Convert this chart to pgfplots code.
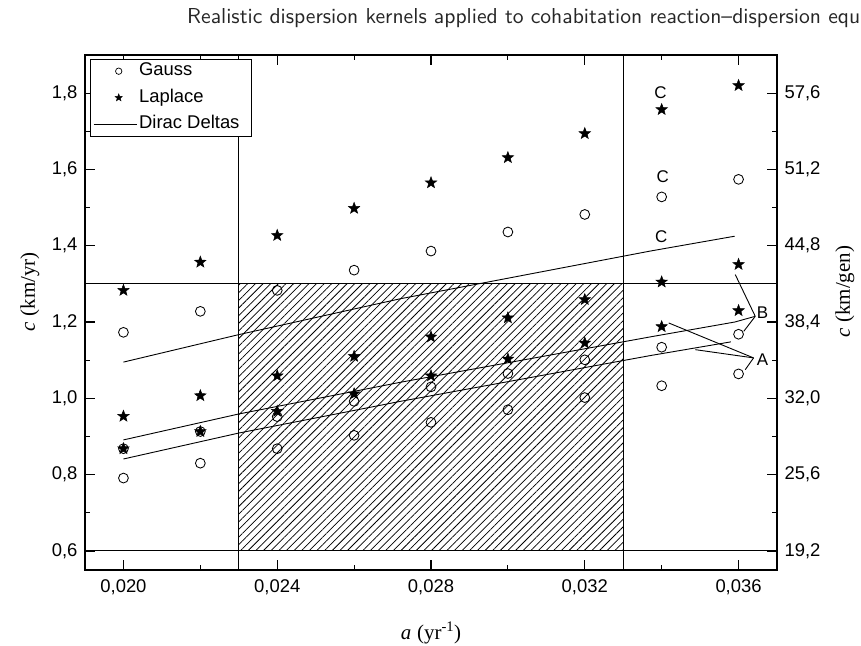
\documentclass[border=0pt]{standalone}
\usepackage{fontspec}
\setmainfont{Liberation Sans}
\newfontfamily\serifrm{Liberation Serif}
\usepackage{graphicx}
\usepackage{pgfplots}
\pgfplotsset{compat=1.18}
\usetikzlibrary{patterns.meta}

% filled five-pointed star
\pgfdeclareplotmark{fstar}{%
  \pgfpathmoveto{\pgfpointpolar{90}{\pgfplotmarksize}}%
  \pgfpathlineto{\pgfpointpolar{126}{0.42\pgfplotmarksize}}%
  \pgfpathlineto{\pgfpointpolar{162}{\pgfplotmarksize}}%
  \pgfpathlineto{\pgfpointpolar{198}{0.42\pgfplotmarksize}}%
  \pgfpathlineto{\pgfpointpolar{234}{\pgfplotmarksize}}%
  \pgfpathlineto{\pgfpointpolar{270}{0.42\pgfplotmarksize}}%
  \pgfpathlineto{\pgfpointpolar{306}{\pgfplotmarksize}}%
  \pgfpathlineto{\pgfpointpolar{342}{0.42\pgfplotmarksize}}%
  \pgfpathlineto{\pgfpointpolar{18}{\pgfplotmarksize}}%
  \pgfpathlineto{\pgfpointpolar{54}{0.42\pgfplotmarksize}}%
  \pgfpathclose
  \pgfusepathqfillstroke}

\pgfplotsset{
  gauss/.style={only marks, mark=o, mark size=4.9bp, mark options={line width=0.85bp, black}},
  laplace/.style={only marks, mark=fstar, mark size=6bp, mark options={line width=0.5bp, fill=black, draw=black}},
  dirac/.style={black, line width=0.9bp, no marks},
  legmark/.style={legend image code/.code={\draw[##1] plot coordinates {(25bp,0bp)};}},
  legline/.style={legend image code/.code={\draw[##1] (0bp,0bp) -- (43bp,0bp);}},
}
\tikzset{tlab/.style={font=\fontsize{17}{19}\selectfont, inner sep=0pt}}

\begin{document}
\begin{tikzpicture}
\useasboundingbox (0,0) rectangle (861bp,646bp);
\node[anchor=base west, text=black!85, inner sep=0pt] at (187bp,622bp)
  {\scalebox{2.17}{\sffamily\fontsize{10}{12}\selectfont Realistic dispersion kernels applied to cohabitation reaction–dispersion equations}};

\begin{axis}[
  at={(85bp,76bp)}, anchor=south west,
  scale only axis, width=692bp, height=515bp,
  xmin=0.019, xmax=0.037, ymin=0.55, ymax=1.9,
  clip=false,
  axis line style={line width=1.8bp, -},
  tick align=inside,
  xtick pos=both, ytick pos=left,
  xtick={0.020,0.024,0.028,0.032,0.036},
  minor xtick={0.022,0.026,0.030,0.034},
  ytick={0.6,0.8,1.0,1.2,1.4,1.6,1.8},
  minor ytick={0.7,0.9,1.1,1.3,1.5,1.7},
  major tick length=10bp, minor tick length=5bp,
  every tick/.append style={line width=1.2bp, black},
  scaled x ticks=false, scaled y ticks=false,
  tick label style={font=\fontsize{18.5}{20}\selectfont},
  xticklabel style={yshift=-6bp, /pgf/number format/.cd, fixed, fixed zerofill, precision=3, use comma, assume math mode=true},
  yticklabel style={xshift=-4bp, /pgf/number format/.cd, fixed, fixed zerofill, precision=1, use comma, assume math mode=true},
  xlabel={{\serifrm\itshape a} {\serifrm (yr\textsuperscript{-1})}},
  ylabel={{\serifrm\itshape c} {\serifrm (km/yr)}},
  label style={font=\fontsize{21}{24}\selectfont},
  xlabel style={at={(axis description cs:0.5,-0.122)}, anchor=center},
  ylabel style={at={(axis description cs:-0.0795,0.54)}, anchor=center},
  legend style={at={(axis description cs:0.0072,0.992)}, anchor=north west,
    draw=black, line width=0.7bp, fill=white,
    font=\fontsize{18.5}{22}\selectfont,
    inner xsep=3bp, inner ysep=1bp, row sep=5bp,
    nodes={text height=13.5bp, text depth=4bp},
    /tikz/every even column/.append style={column sep=5bp}},
  legend cell align=left,
]
% hatched window
\draw[line width=1.1bp, pattern={Lines[angle=45, distance=5.4bp, line width=0.75bp]}]
  (axis cs:0.023,0.6) rectangle (axis cs:0.033,1.3);
\draw[line width=1.1bp] (axis cs:0.023,0.55) -- (axis cs:0.023,1.9);
\draw[line width=1.1bp] (axis cs:0.033,0.55) -- (axis cs:0.033,1.9);
\draw[line width=1.1bp] (axis cs:0.019,1.3) -- (axis cs:0.037,1.3);
\draw[line width=1.1bp] (axis cs:0.019,0.6) -- (axis cs:0.037,0.6);

% Dirac Deltas
\addplot[dirac, forget plot] coordinates {(0.020,0.841)(0.023,0.909)(0.0272,0.992)(0.0337,1.112)(0.0358,1.148)};
\addplot[dirac, forget plot] coordinates {(0.020,0.891)(0.023,0.959)(0.0272,1.042)(0.0337,1.161)(0.0359,1.200)};
\addplot[dirac, forget plot] coordinates {(0.020,1.095)(0.023,1.167)(0.0272,1.261)(0.0337,1.386)(0.0359,1.425)};

% Gauss
\addplot[gauss, forget plot] coordinates {(0.020,0.791)(0.022,0.830)(0.024,0.868)(0.026,0.903)(0.028,0.937)(0.030,0.970)(0.032,1.002)(0.034,1.033)(0.036,1.064)};
\addplot[gauss, forget plot] coordinates {(0.020,0.868)(0.022,0.913)(0.024,0.952)(0.026,0.992)(0.028,1.030)(0.030,1.065)(0.032,1.101)(0.034,1.134)(0.036,1.168)};
\addplot[gauss, forget plot] coordinates {(0.020,1.173)(0.022,1.228)(0.024,1.283)(0.026,1.336)(0.028,1.386)(0.030,1.436)(0.032,1.482)(0.034,1.528)(0.036,1.574)};

% Laplace
\addplot[laplace, forget plot] coordinates {(0.020,0.868)(0.022,0.913)(0.024,0.966)(0.026,1.012)(0.028,1.059)(0.030,1.103)(0.032,1.145)(0.034,1.188)(0.036,1.230)};
\addplot[laplace, forget plot] coordinates {(0.020,0.953)(0.022,1.007)(0.024,1.059)(0.026,1.110)(0.028,1.161)(0.030,1.211)(0.032,1.259)(0.034,1.305)(0.036,1.351)};
\addplot[laplace, forget plot] coordinates {(0.020,1.283)(0.022,1.357)(0.024,1.427)(0.026,1.498)(0.028,1.565)(0.030,1.631)(0.032,1.694)(0.034,1.757)(0.036,1.820)};

% labels and leaders
\node[tlab] at (axis cs:0.03397,1.801) {C};
\node[tlab] at (axis cs:0.03403,1.582) {C};
\node[tlab] at (axis cs:0.03399,1.423) {C};
\node[tlab, anchor=west] at (axis cs:0.03647,1.224) {B};
\node[tlab, anchor=west] at (axis cs:0.03647,1.101) {A};
\draw[line width=0.9bp] (axis cs:0.035914,1.3244) -- (axis cs:0.036434,1.215);
\draw[line width=0.9bp] (axis cs:0.0359,1.200) -- (axis cs:0.036434,1.215);
\draw[line width=0.9bp] (axis cs:0.036135,1.1756) -- (axis cs:0.036434,1.215);
\draw[line width=0.9bp] (axis cs:0.034182,1.1976) -- (axis cs:0.03639,1.106);
\draw[line width=0.9bp] (axis cs:0.034875,1.1276) -- (axis cs:0.03639,1.106);
\draw[line width=0.9bp] (axis cs:0.036174,1.0751) -- (axis cs:0.03639,1.106);

% legend
\addlegendimage{only marks, mark=o, mark size=3.2bp, mark options={line width=0.7bp}, legmark}
\addlegendentry{Gauss}
\addlegendimage{only marks, mark=fstar, mark size=3.9bp, mark options={fill=black, line width=0.4bp}, legmark}
\addlegendentry{Laplace}
\addlegendimage{black, line width=0.8bp, legline}
\addlegendentry{Dirac Deltas\hspace*{7bp}}
\end{axis}

\begin{axis}[
  at={(85bp,76bp)}, anchor=south west,
  scale only axis, width=692bp, height=515bp,
  xmin=0.019, xmax=0.037, ymin=17.6, ymax=60.8,
  hide x axis, axis y line*=right,
  axis line style={line width=1.8bp, -},
  tick align=inside,
  ytick={19.2,25.6,32.0,38.4,44.8,51.2,57.6},
  minor ytick={22.4,28.8,35.2,41.6,48.0,54.4},
  major tick length=10bp, minor tick length=5bp,
  every tick/.append style={line width=1.2bp, black},
  scaled y ticks=false,
  tick label style={font=\fontsize{18.5}{20}\selectfont},
  yticklabel style={xshift=4bp, /pgf/number format/.cd, fixed, fixed zerofill, precision=1, use comma, assume math mode=true},
  ylabel={{\serifrm\itshape c} {\serifrm (km/gen)}},
  label style={font=\fontsize{21}{24}\selectfont},
  ylabel style={at={(axis description cs:1.098,0.54)}, anchor=center},
]
\end{axis}
\end{tikzpicture}
\end{document}
